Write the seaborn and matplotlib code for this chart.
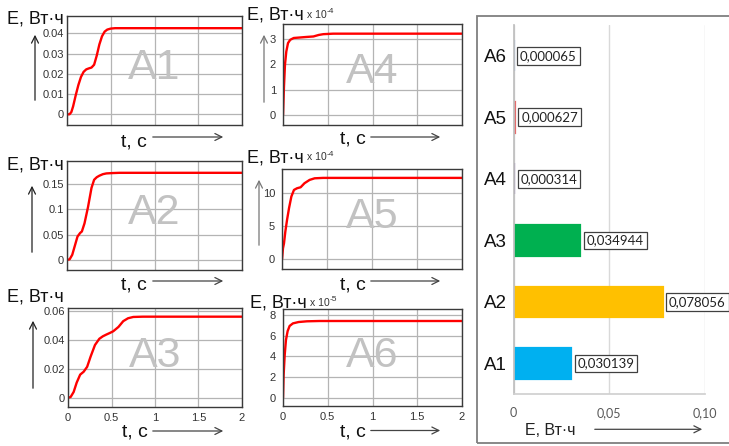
import numpy as np
import pandas as pd
import matplotlib
matplotlib.use("Agg")
import matplotlib.pyplot as plt
from matplotlib.patches import FancyArrowPatch, Rectangle
import seaborn as sns

# ---------------- data ----------------
t_A1 = [0, 0.03, 0.05, 0.07, 0.10, 0.13, 0.16, 0.19, 0.22, 0.25, 0.28, 0.31, 0.34, 0.37, 0.40, 0.43, 0.46, 0.50, 0.55, 0.65, 1.0, 2.0]
E_A1 = [0, 0.0001, 0.0012, 0.0040, 0.0095, 0.0145, 0.0185, 0.0210, 0.0222, 0.0227, 0.0231, 0.0245, 0.0290, 0.0345, 0.0385, 0.0408, 0.0418, 0.0423, 0.0425, 0.0425, 0.0425, 0.0425]

t_A2 = [0, 0.03, 0.06, 0.09, 0.12, 0.15, 0.17, 0.20, 0.24, 0.28, 0.31, 0.34, 0.37, 0.41, 0.45, 0.52, 0.60, 1.0, 2.0]
E_A2 = [0, 0.001, 0.010, 0.028, 0.046, 0.053, 0.056, 0.072, 0.104, 0.142, 0.158, 0.163, 0.166, 0.169, 0.1705, 0.1712, 0.1717, 0.1717, 0.1717]

t_A3 = [0, 0.03, 0.065, 0.10, 0.14, 0.18, 0.22, 0.26, 0.31, 0.36, 0.40, 0.44, 0.48, 0.52, 0.58, 0.635, 0.69, 0.75, 0.86, 1.0, 2.0]
E_A3 = [0, 0.0005, 0.004, 0.0105, 0.0160, 0.0180, 0.0214, 0.0285, 0.0365, 0.0408, 0.0425, 0.0437, 0.0448, 0.0460, 0.0490, 0.0530, 0.0550, 0.0559, 0.0561, 0.0561, 0.0561]

t_A4 = [0, 0.011, 0.022, 0.037, 0.056, 0.081, 0.12, 0.19, 0.26, 0.34, 0.40, 0.45, 0.56, 1.0, 2.0]
E_A4_x1e4 = [0, 1.13, 1.98, 2.50, 2.83, 2.96, 3.03, 3.05, 3.07, 3.09, 3.15, 3.18, 3.20, 3.20, 3.20]

t_A5 = [0, 0.011, 0.022, 0.037, 0.056, 0.078, 0.104, 0.133, 0.167, 0.207, 0.25, 0.307, 0.363, 0.456, 1.0, 2.0]
E_A5_x1e4 = [0, 1.66, 2.4, 4.17, 5.93, 7.7, 9.45, 10.45, 10.7, 10.85, 11.46, 11.96, 12.2, 12.26, 12.26, 12.26]

t_A6 = [0, 0.007, 0.019, 0.033, 0.052, 0.074, 0.111, 0.174, 0.267, 0.41, 1.0, 2.0]
E_A6_x1e5 = [0, 2.2, 4.13, 5.58, 6.45, 6.94, 7.19, 7.32, 7.39, 7.42, 7.42, 7.42]

bar_labels = ["A6", "A5", "A4", "A3", "A2", "A1"]
bar_values = [0.000065, 0.000627, 0.000314, 0.034944, 0.078056, 0.030139]
bar_colors = ["#8EA9DB", "#E46C6C", "#8064A2", "#00B050", "#FFC000", "#00B0F0"]

x_ticks = [0, 0.5, 1, 1.5, 2]
x_ticklabels = ["0", "0.5", "1", "1.5", "2"]
yt_A1 = [0, 0.01, 0.02, 0.03, 0.04]; yl_A1 = ["0", "0.01", "0.02", "0.03", "0.04"]
yt_A2 = [0, 0.05, 0.1, 0.15];        yl_A2 = ["0", "0.05", "0.1", "0.15"]
yt_A3 = [0, 0.02, 0.04, 0.06];       yl_A3 = ["0", "0.02", "0.04", "0.06"]
yt_A4 = [0, 1, 2, 3];                yl_A4 = ["0", "1", "2", "3"]
yt_A5 = [0, 5, 10];                  yl_A5 = ["0", "5", "10"]
yt_A6 = [0, 2, 4, 6, 8];             yl_A6 = ["0", "2", "4", "6", "8"]
bar_xticks = [0, 0.05, 0.10]
bar_xticklabels = ["0", "0,05", "0,10"]

# ---------------- style ----------------
sns.set_theme(style="white")
plt.rcParams["font.family"] = ["Liberation Sans", "DejaVu Sans"]

W, H = 729, 446
fig = plt.figure(figsize=(W / 100, H / 100), dpi=100)
fig.patch.set_facecolor("white")


def rect(x0, y0, x1, y1):
    return [x0 / W, 1 - y1 / H, (x1 - x0) / W, (y1 - y0) / H]


def fp(x, y):
    return (x / W, 1 - y / H)


def arrow(x0, y0, x1, y1, color="#222222"):
    fig.add_artist(FancyArrowPatch(fp(x0, y0), fp(x1, y1), transform=fig.transFigure,
                                   arrowstyle="->,head_length=0.5,head_width=0.25",
                                   mutation_scale=10, lw=0.9, color=color))


panels = [
    ("A1", (67, 16, 242, 125), t_A1, E_A1, (-0.0052, 0.0485), yt_A1, yl_A1, False, (7, 23), None, (121, 146.5, 150, 226, 137), (35, 103, 32, "#222222")),
    ("A4", (283, 24, 462, 125), t_A4, E_A4_x1e4, (-0.39, 3.58), yt_A4, yl_A4, False, (247, 20), "-4", (340, 143.5, 368, 443, 137), (264, 105, 32, "#777777")),
    ("A2", (67, 161, 242, 270), t_A2, E_A2, (-0.020, 0.195), yt_A2, yl_A2, False, (7, 169.5), None, (121, 290, 150, 226, 281), (32, 255, 183, "#222222")),
    ("A5", (282, 169, 462, 269), t_A5, E_A5_x1e4, (-1.46, 13.6), yt_A5, yl_A5, False, (247, 162.5), "-4", (340, 290, 368, 443, 281), (259, 248, 177, "#777777")),
    ("A3", (68, 308, 242, 407), t_A3, E_A3, (-0.0064, 0.0621), yt_A3, yl_A3, True, (7, 301), None, (122, 436.5, 150, 226, 431), (33, 391, 318, "#222222")),
    ("A6", (283, 309, 462, 406), t_A6, E_A6_x1e5, (-0.8, 8.58), yt_A6, yl_A6, True, (250, 308), "-5", (340, 436.5, 368, 443, 430.5), None),
]

for name, r, t, E, ylim, yt, yl, showx, lab, mult, tlab, up in panels:
    ax = fig.add_axes(rect(*r))
    sns.lineplot(x=t, y=E, ax=ax, color="#ff0000", lw=1.7, estimator=None, sort=False)
    ax.set_xlim(0, 2)
    ax.set_ylim(*ylim)
    ax.set_xticks(x_ticks)
    ax.set_yticks(yt)
    ax.set_yticklabels(yl)
    if showx:
        ax.set_xticklabels(x_ticklabels)
    else:
        ax.set_xticklabels([])
    ax.tick_params(length=0, labelsize=8, labelcolor="#333333")
    ax.tick_params(axis="y", pad=2 if mult is None else 5)
    ax.tick_params(axis="x", pad=4)
    ax.grid(True, color="#b4b4b4", lw=0.9)
    ax.set_axisbelow(True)
    for s in ax.spines.values():
        s.set_color("#3a3a3a")
        s.set_linewidth(1.0)
        s.set_visible(True)
    ax.set_xlabel("")
    ax.set_ylabel("")
    ax.text(0.5, 0.52, name, transform=ax.transAxes, ha="center", va="center",
            fontsize=31, color="#c2c2c2", zorder=1)
    fig.text(*fp(*lab), "E, Вт·ч", fontsize=13, va="baseline", ha="left", color="#111111")
    if mult is not None:
        fig.text(*fp(lab[0] + 60, lab[1] - 2), "x 10", fontsize=7.5, va="baseline", ha="left", color="#333333")
        fig.text(*fp(lab[0] + 80, lab[1] - 7), mult, fontsize=6, va="baseline", ha="left", color="#333333")
    fig.text(*fp(tlab[0], tlab[1]), "t, с", fontsize=14, va="baseline", ha="left", color="#111111")
    arrow(tlab[2], tlab[4], tlab[3], tlab[4], color="#444444")
    if up is not None:
        arrow(up[0], up[1], up[0], up[2], color=up[3])

# ---------------- bar panel ----------------
axb = fig.add_axes(rect(513.7, 25, 704.7, 394.3))
df = pd.DataFrame({"label": bar_labels, "value": bar_values})
sns.barplot(data=df, x="value", y="label", hue="label", palette=bar_colors, order=bar_labels,
            orient="h", width=0.5, ax=axb, legend=False, saturation=1)
for p in axb.patches:
    p.set_edgecolor(p.get_facecolor())
    p.set_linewidth(1.6)
axb.set_xlim(0, 0.10)
axb.set_ylim(5.5, -0.5)
axb.set_xticks(bar_xticks)
axb.set_xticklabels(bar_xticklabels)
axb.set_yticks(range(len(bar_labels)))
axb.set_yticklabels(bar_labels)
axb.set_yticks(np.arange(-0.5, len(bar_labels) + 0.5, 1), minor=True)
axb.tick_params(axis="y", which="major", length=0, pad=5, labelsize=13.5, labelcolor="#111111")
axb.tick_params(axis="y", which="minor", length=5, width=1, color="#bfbfbf")
axb.tick_params(axis="x", length=0, pad=9, labelsize=9, labelcolor="#595959")
for lbl in axb.get_xticklabels():
    lbl.set_family(["Lato", "DejaVu Sans"])
axb.grid(True, axis="x", color="#d9d9d9", lw=1)
axb.grid(False, axis="y")
axb.set_axisbelow(True)
axb.spines["top"].set_visible(False)
axb.spines["right"].set_visible(False)
axb.spines["left"].set_color("#bfbfbf")
axb.spines["bottom"].set_color("#d0d0d0")
axb.set_xlabel("")
axb.set_ylabel("")
for i, v in enumerate(bar_values):
    axb.annotate(f"{v:.6f}".replace(".", ","), xy=(v, i), xytext=(4.5, 0), textcoords="offset points",
                 ha="left", va="center", fontsize=9.5, color="#222222", family=["Lato", "DejaVu Sans"],
                 bbox=dict(boxstyle="square,pad=0.22", fc="white", ec="#404040", lw=0.9),
                 annotation_clip=False)

fig.text(*fp(525, 435), "E, Вт·ч", fontsize=11.5, va="baseline", ha="left", color="#222222")
arrow(592, 429.3, 705, 429.3, color="#444444")

fig.add_artist(Rectangle(fp(477, 443), 270 / W, (443 - 15.5) / H, transform=fig.transFigure,
                         fill=False, ec="#7f7f7f", lw=1.3))

fig.savefig("out.png", dpi=100)
